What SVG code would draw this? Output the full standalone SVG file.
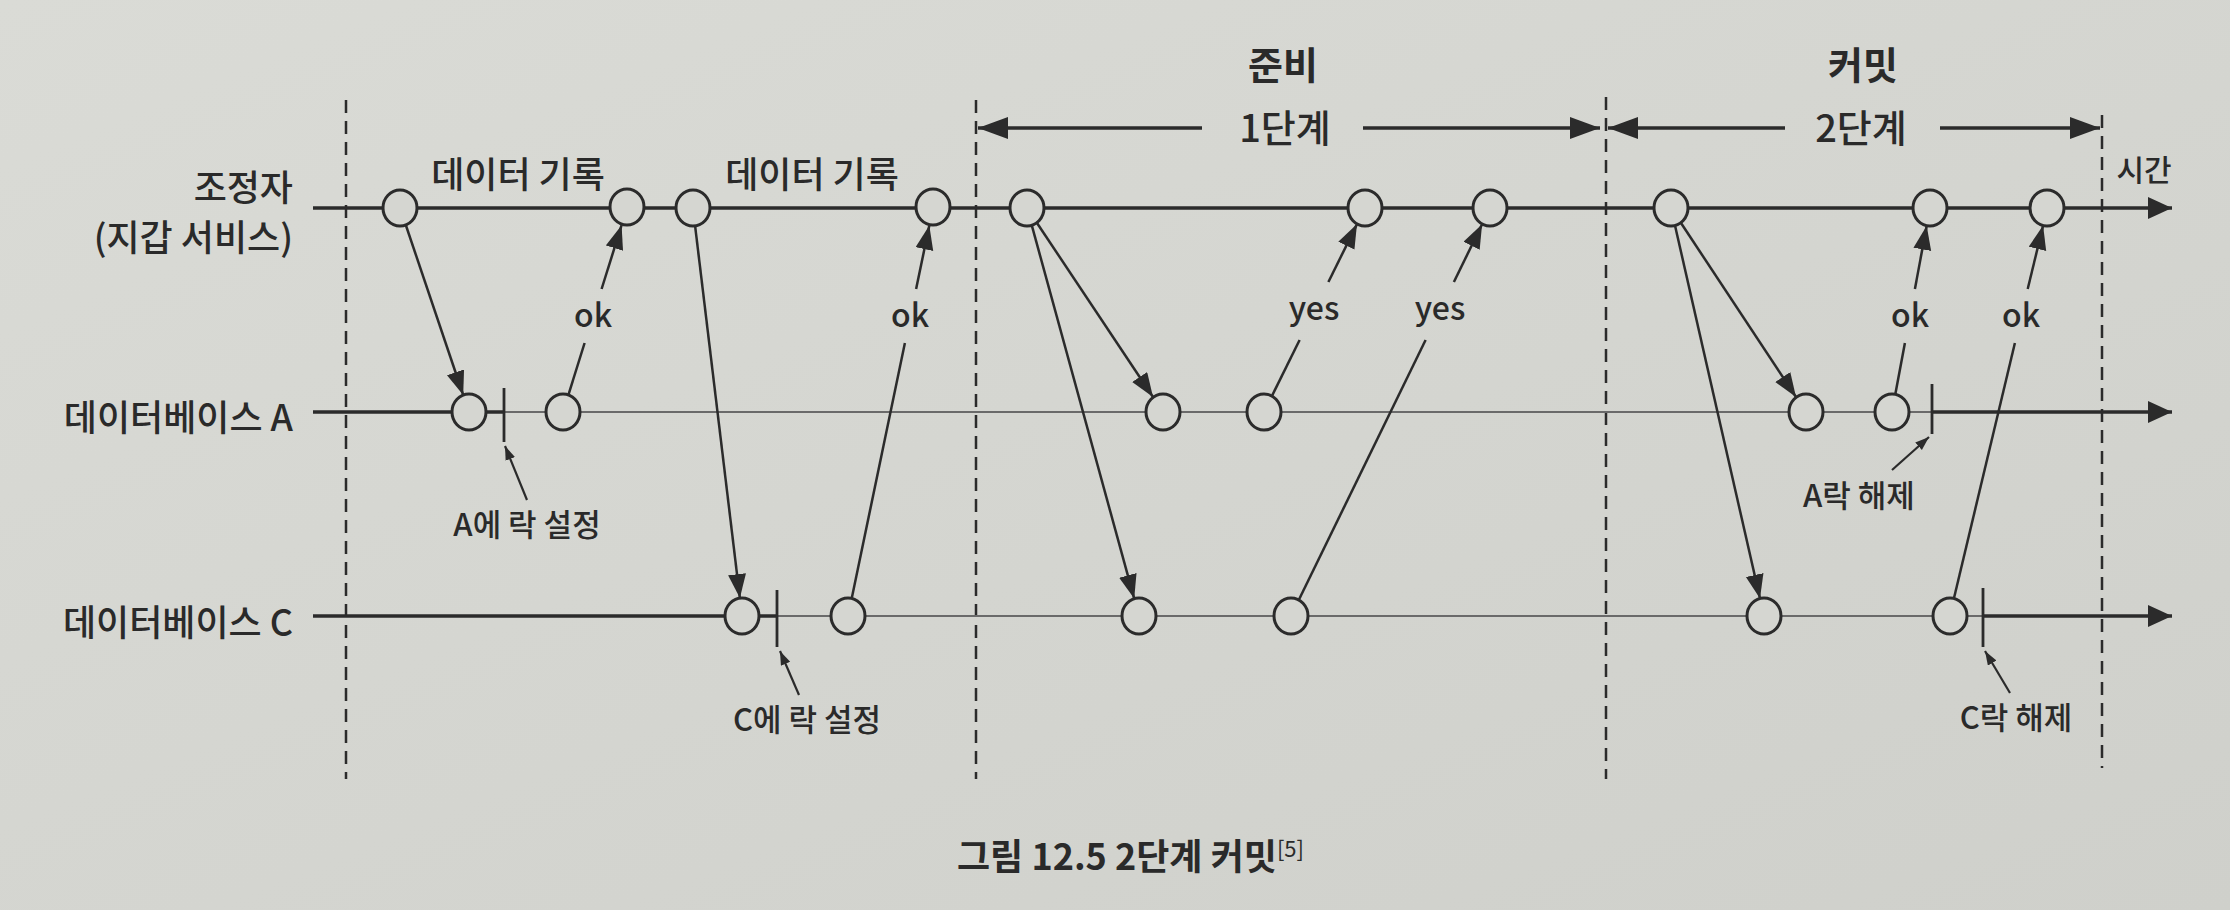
<svg xmlns="http://www.w3.org/2000/svg" width="2230" height="910" viewBox="0 0 2230 910">
<defs>
<linearGradient id="bg" x1="0" y1="0" x2="1" y2="1">
<stop offset="0" stop-color="#dadbd6"/>
<stop offset="1" stop-color="#cfd0cb"/>
</linearGradient>
<marker id="ah" markerUnits="userSpaceOnUse" markerWidth="26" markerHeight="20" refX="24" refY="9" orient="auto"><path d="M0,0 L24,9 L0,18 z" fill="#2b2b2b"/></marker>
<marker id="ahs" markerUnits="userSpaceOnUse" markerWidth="16" markerHeight="12" refX="14" refY="5" orient="auto"><path d="M0,0 L14,5 L0,10 z" fill="#2b2b2b"/></marker>
<marker id="ahl" markerUnits="userSpaceOnUse" markerWidth="26" markerHeight="24" refX="24" refY="11" orient="auto"><path d="M0,0 L24,11 L0,22 z" fill="#2b2b2b"/></marker>
<marker id="ahp" markerUnits="userSpaceOnUse" markerWidth="32" markerHeight="24" refX="30" refY="11" orient="auto"><path d="M0,0 L30,11 L0,22 z" fill="#2b2b2b"/></marker>
</defs>
<style>
text{font-family:"Noto Sans CJK KR","Noto Sans",sans-serif;fill:#2a2a2a;font-weight:500}
.lane{font-size:36px;text-anchor:end}
.lbl{font-size:36px;text-anchor:middle}
.msg{font-size:32px;text-anchor:middle}
.lock{font-size:31px;text-anchor:middle}
.phase{font-size:38px;text-anchor:middle}
.phb{font-size:38px;font-weight:bold;text-anchor:middle}
.cap{font-size:36px;font-weight:bold}
.dash{stroke:#2b2b2b;stroke-width:2.5;stroke-dasharray:13 8;fill:none}
.thick{stroke:#2b2b2b;stroke-width:3.5;fill:none}
.thin{stroke:#6a6a6a;stroke-width:2.2;fill:none}
.ev{fill:#d5d6d1;stroke:#2b2b2b;stroke-width:3}
.arr{stroke:#2b2b2b;stroke-width:2.5;fill:none}
.ptr{stroke:#2b2b2b;stroke-width:2.2;fill:none}
.tick{stroke:#2b2b2b;stroke-width:2.8;fill:none}
</style>
<rect x="0" y="0" width="2230" height="910" fill="url(#bg)"/>

<g id="phase-dividers">
<line class="dash" x1="346" y1="100" x2="346" y2="779"/>
<line class="dash" x1="976" y1="100" x2="976" y2="779"/>
<line class="dash" x1="1606" y1="97" x2="1606" y2="779"/>
<line class="dash" x1="2102" y1="115" x2="2102" y2="768"/>
</g>

<g id="phase-labels">
<text class="phb" x="1283" y="79">준비</text>
<text class="phb" x="1863" y="79">커밋</text>
<text class="phase" x="1285" y="142">1단계</text>
<text class="phase" x="1861" y="142">2단계</text>
<line class="thick" x1="1202" y1="128" x2="978" y2="128" marker-end="url(#ahp)"/>
<line class="thick" x1="1363" y1="128" x2="1600" y2="128" marker-end="url(#ahp)"/>
<line class="thick" x1="1785" y1="128" x2="1608" y2="128" marker-end="url(#ahp)"/>
<line class="thick" x1="1940" y1="128" x2="2100" y2="128" marker-end="url(#ahp)"/>
</g>

<g id="lane-coordinator">
<text class="lane" x="293" y="201">조정자</text>
<text class="lane" x="293" y="251">(지갑 서비스)</text>
<line class="thick" x1="313" y1="208" x2="2172" y2="208" marker-end="url(#ahl)"/>
<text x="2144" y="181" style="font-size:30px;text-anchor:middle">시간</text>
</g>
<g id="lane-db-a">
<text class="lane" x="293" y="431">데이터베이스 A</text>
<line class="thick" x1="313" y1="412" x2="504" y2="412"/>
<line class="thin" x1="504" y1="412" x2="1932" y2="412"/>
<line class="thick" x1="1932" y1="412" x2="2172" y2="412" marker-end="url(#ahl)"/>
</g>
<g id="lane-db-c">
<text class="lane" x="293" y="636">데이터베이스 C</text>
<line class="thick" x1="313" y1="616" x2="777" y2="616"/>
<line class="thin" x1="777" y1="616" x2="1983" y2="616"/>
<line class="thick" x1="1983" y1="616" x2="2172" y2="616" marker-end="url(#ahl)"/>
</g>

<g id="connectors">
<line class="arr" x1="405.8" y1="225" x2="463.2" y2="395" marker-end="url(#ah)"/>
<line class="arr" x1="695.1" y1="225.9" x2="739.9" y2="598.1" marker-end="url(#ah)"/>
<line class="arr" x1="1037" y1="223" x2="1153" y2="397" marker-end="url(#ah)"/>
<line class="arr" x1="1031.8" y1="225.4" x2="1134.2" y2="598.6" marker-end="url(#ah)"/>
<line class="arr" x1="1681" y1="223" x2="1796" y2="397" marker-end="url(#ah)"/>
<line class="arr" x1="1675" y1="225.5" x2="1760" y2="598.5" marker-end="url(#ah)"/>

<line class="arr" x1="568.4" y1="394.8" x2="584.6" y2="343"/>
<line class="arr" x1="601.6" y1="289" x2="621.6" y2="225.2" marker-end="url(#ah)"/>
<line class="arr" x1="851.7" y1="598.4" x2="904.9" y2="343"/>
<line class="arr" x1="916.1" y1="289" x2="929.3" y2="225.6" marker-end="url(#ah)"/>
<line class="arr" x1="1272" y1="395.9" x2="1299.6" y2="340"/>
<line class="arr" x1="1328.4" y1="282" x2="1357" y2="224.1" marker-end="url(#ah)"/>
<line class="arr" x1="1298.9" y1="599.8" x2="1425.6" y2="340"/>
<line class="arr" x1="1453.9" y1="282" x2="1482.1" y2="224.2" marker-end="url(#ah)"/>
<line class="arr" x1="1895.3" y1="394.3" x2="1904.9" y2="343"/>
<line class="arr" x1="1914.9" y1="289" x2="1926.7" y2="225.7" marker-end="url(#ah)"/>
<line class="arr" x1="1953.9" y1="598.5" x2="2014.9" y2="343"/>
<line class="arr" x1="2027.7" y1="289" x2="2043.1" y2="225.5" marker-end="url(#ah)"/>

<text class="lbl" x="518" y="188">데이터 기록</text>
<text class="lbl" x="812" y="188">데이터 기록</text>
<text class="msg" x="593" y="327">ok</text>
<text class="msg" x="910" y="327">ok</text>
<text class="msg" x="1314" y="320">yes</text>
<text class="msg" x="1440" y="320">yes</text>
<text class="msg" x="1910" y="327">ok</text>
<text class="msg" x="2021" y="327">ok</text>
</g>

<g id="lock-a-set">
<line class="tick" x1="504" y1="388" x2="504" y2="442"/>
<line class="ptr" x1="527" y1="500" x2="505" y2="446" marker-end="url(#ahs)"/>
<text class="lock" x="527" y="536">A에 락 설정</text>
</g>
<g id="lock-c-set">
<line class="tick" x1="777" y1="590" x2="777" y2="647"/>
<line class="ptr" x1="799" y1="695" x2="780" y2="651" marker-end="url(#ahs)"/>
<text class="lock" x="807" y="731">C에 락 설정</text>
</g>
<g id="lock-a-release">
<line class="tick" x1="1932" y1="384" x2="1932" y2="434"/>
<line class="ptr" x1="1892" y1="470" x2="1929" y2="437" marker-end="url(#ahs)"/>
<text class="lock" x="1859" y="507">A락 해제</text>
</g>
<g id="lock-c-release">
<line class="tick" x1="1983" y1="588" x2="1983" y2="647"/>
<line class="ptr" x1="2010" y1="693" x2="1985" y2="651" marker-end="url(#ahs)"/>
<text class="lock" x="2016" y="729">C락 해제</text>
</g>

<g id="coord-1"><ellipse class="ev" cx="400" cy="208" rx="17" ry="18"/></g>
<g id="coord-2"><ellipse class="ev" cx="627" cy="207" rx="17" ry="18"/></g>
<g id="coord-3"><ellipse class="ev" cx="693" cy="208" rx="17" ry="18"/></g>
<g id="coord-4"><ellipse class="ev" cx="933" cy="207" rx="17" ry="18"/></g>
<g id="coord-5"><ellipse class="ev" cx="1027" cy="208" rx="17" ry="18"/></g>
<g id="coord-6"><ellipse class="ev" cx="1365" cy="208" rx="17" ry="18"/></g>
<g id="coord-7"><ellipse class="ev" cx="1490" cy="208" rx="17" ry="18"/></g>
<g id="coord-8"><ellipse class="ev" cx="1671" cy="208" rx="17" ry="18"/></g>
<g id="coord-9"><ellipse class="ev" cx="1930" cy="208" rx="17" ry="18"/></g>
<g id="coord-10"><ellipse class="ev" cx="2047" cy="208" rx="17" ry="18"/></g>

<g id="dba-1"><ellipse class="ev" cx="469" cy="412" rx="17" ry="18"/></g>
<g id="dba-2"><ellipse class="ev" cx="563" cy="412" rx="17" ry="18"/></g>
<g id="dba-3"><ellipse class="ev" cx="1163" cy="412" rx="17" ry="18"/></g>
<g id="dba-4"><ellipse class="ev" cx="1264" cy="412" rx="17" ry="18"/></g>
<g id="dba-5"><ellipse class="ev" cx="1806" cy="412" rx="17" ry="18"/></g>
<g id="dba-6"><ellipse class="ev" cx="1892" cy="412" rx="17" ry="18"/></g>

<g id="dbc-1"><ellipse class="ev" cx="742" cy="616" rx="17" ry="18"/></g>
<g id="dbc-2"><ellipse class="ev" cx="848" cy="616" rx="17" ry="18"/></g>
<g id="dbc-3"><ellipse class="ev" cx="1139" cy="616" rx="17" ry="18"/></g>
<g id="dbc-4"><ellipse class="ev" cx="1291" cy="616" rx="17" ry="18"/></g>
<g id="dbc-5"><ellipse class="ev" cx="1764" cy="616" rx="17" ry="18"/></g>
<g id="dbc-6"><ellipse class="ev" cx="1950" cy="616" rx="17" ry="18"/></g>

<g id="caption">
<text class="cap" x="957" y="870">그림 12.5 2단계 커밋<tspan style="font-size:22px;font-weight:normal" dy="-13">[5]</tspan></text>
</g>
</svg>
